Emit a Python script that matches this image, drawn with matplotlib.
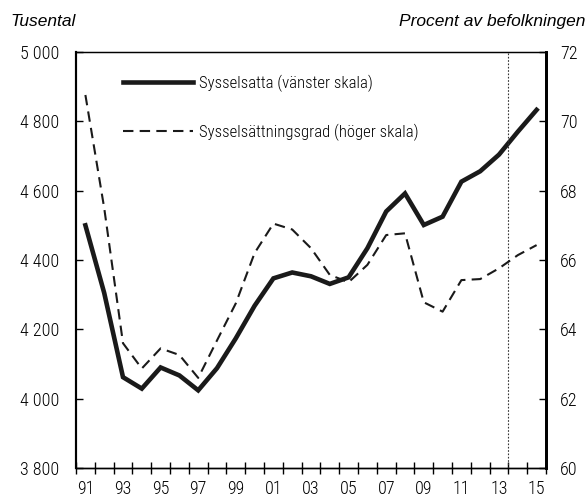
import numpy as np
import matplotlib
matplotlib.use("Agg")
import matplotlib.pyplot as plt
from matplotlib.ticker import FuncFormatter, FixedLocator

plt.rcParams['font.family'] = ['Roboto Condensed', 'DejaVu Sans']
plt.rcParams['font.weight'] = 'light'

# data
years = list(range(1991, 2016))
sysselsatta = [4500, 4305, 4062, 4029, 4090, 4067, 4024, 4088, 4174, 4268,
               4347, 4364, 4353, 4331, 4350, 4434, 4540, 4592, 4501, 4525,
               4626, 4656, 4704, 4770, 4833]
grad = [70.76, 67.5, 63.6, 62.87, 63.45, 63.26, 62.6, 63.68, 64.75, 66.2,
        67.05, 66.88, 66.34, 65.57, 65.36, 65.86, 66.72, 66.77, 64.78, 64.51,
        65.42, 65.45, 65.76, 66.14, 66.43]
left_ticks = [3800, 4000, 4200, 4400, 4600, 4800, 5000]
right_ticks = [60, 62, 64, 66, 68, 70, 72]
label_years = years[::2]
prognos_start = 2013.5

fig = plt.figure(figsize=(5.87, 5.01), dpi=100)
ax = fig.add_axes([76/587, 33/501, 470/587, 416/501])
ax2 = ax.twinx()

l1, = ax.plot(years, sysselsatta, color='#1a1a1a', lw=3.3,
              solid_joinstyle='miter', label='Sysselsatta (vänster skala)')
l2, = ax2.plot(years, grad, color='#1a1a1a', lw=1.5, linestyle=(0, (5, 3)),
               label='Sysselsättningsgrad (höger skala)')
ax.axvline(prognos_start, color='#333333', lw=0.8, linestyle=(0, (1.5, 1.5)))

ax.set_xlim(years[0] - 0.5, years[-1] + 0.5)
ax.set_ylim(left_ticks[0], left_ticks[-1])
ax2.set_ylim(right_ticks[0], right_ticks[-1])

# category boundaries as major ticks, labels on minor ticks
bounds = np.arange(years[0] - 0.5, years[-1] + 1.0, 1.0)
ax.xaxis.set_major_locator(FixedLocator(bounds))
ax.xaxis.set_major_formatter(FuncFormatter(lambda v, p: ''))
ax.xaxis.set_minor_locator(FixedLocator(label_years))
ax.xaxis.set_minor_formatter(FuncFormatter(lambda v, p: f"{int(round(v)) % 100:02d}"))
ax.tick_params(axis='x', which='major', direction='inout', length=8, width=1)
ax.tick_params(axis='x', which='minor', length=0, pad=9, labelsize=13)

ax.set_yticks(left_ticks)
ax.yaxis.set_major_formatter(FuncFormatter(lambda v, p: f"{int(v):,}".replace(',', ' ')))
ax.tick_params(axis='y', direction='in', length=5, width=1, pad=12, labelsize=13)
ax2.set_yticks(right_ticks)
ax2.tick_params(axis='y', direction='in', length=5, width=1, pad=10, labelsize=13)

for a in (ax, ax2):
    a.spines['top'].set_linewidth(0.9)
    a.spines['bottom'].set_linewidth(1.0)
    a.spines['left'].set_linewidth(1.5)
    a.spines['right'].set_linewidth(2.0)

ax2.legend(handles=[l1, l2], loc='upper left', bbox_to_anchor=(0.101, 0.945),
           frameon=False, fontsize=12, handlelength=4.2, handletextpad=0.35,
           labelspacing=1.9, borderpad=0, borderaxespad=0)

fig.text(10/587, 1 - 26/501, 'Tusental', fontsize=12.5, style='italic',
         family='Liberation Sans', weight='normal', ha='left', va='baseline')
fig.text(585/587, 1 - 26/501, 'Procent av befolkningen', fontsize=12.5,
         style='italic', family='Liberation Sans', weight='normal',
         ha='right', va='baseline')

fig.savefig('out.png', dpi=100)
